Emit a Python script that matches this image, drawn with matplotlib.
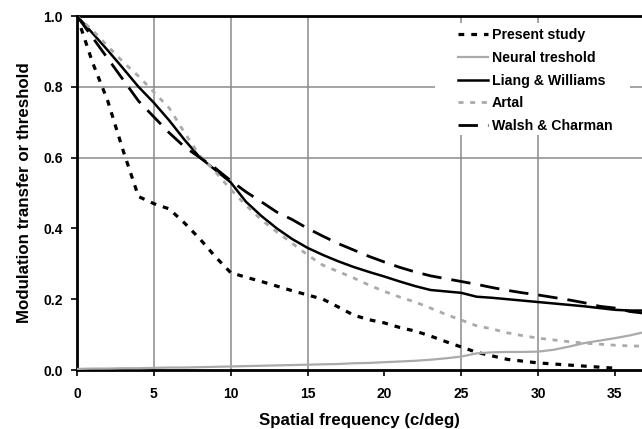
import numpy as np
import matplotlib
matplotlib.use('Agg')
import matplotlib.pyplot as plt
from matplotlib.patches import Rectangle

plt.rcParams['font.family'] = ['Liberation Sans', 'DejaVu Sans']
plt.rcParams['font.weight'] = 'bold'

# spatial frequency (c/deg)
freq = list(range(0, 38))

present_study = [1.0, 0.87, 0.76, 0.62, 0.49, 0.47, 0.455, 0.415, 0.37, 0.32,
                 0.275, 0.262, 0.25, 0.237, 0.224, 0.212, 0.2, 0.178, 0.155, 0.142,
                 0.133, 0.12, 0.11, 0.096, 0.08, 0.065, 0.05, 0.04, 0.03, 0.025,
                 0.02, 0.017, 0.014, 0.011, 0.008, 0.005]
neural = [0.003, 0.004, 0.004, 0.005, 0.005, 0.006, 0.007, 0.007, 0.008, 0.009,
          0.01, 0.011, 0.012, 0.013, 0.014, 0.015, 0.016, 0.017, 0.019, 0.02,
          0.022, 0.024, 0.026, 0.029, 0.033, 0.038, 0.047, 0.05, 0.051, 0.051,
          0.052, 0.057, 0.066, 0.076, 0.083, 0.09, 0.098, 0.108]
liang = [1.0, 0.952, 0.903, 0.852, 0.8, 0.755, 0.705, 0.65, 0.6, 0.565,
         0.53, 0.475, 0.435, 0.4, 0.37, 0.345, 0.325, 0.307, 0.291, 0.277,
         0.264, 0.25, 0.237, 0.226, 0.222, 0.218, 0.207, 0.204, 0.2, 0.196,
         0.192, 0.188, 0.184, 0.18, 0.175, 0.17, 0.168, 0.168]
artal = [1.0, 0.96, 0.915, 0.87, 0.83, 0.785, 0.74, 0.67, 0.605, 0.56,
         0.51, 0.465, 0.424, 0.39, 0.358, 0.325, 0.296, 0.278, 0.26, 0.24,
         0.222, 0.206, 0.192, 0.175, 0.157, 0.141, 0.125, 0.116, 0.105, 0.097,
         0.09, 0.085, 0.08, 0.076, 0.073, 0.07, 0.068, 0.067]
walsh = [1.0, 0.94, 0.88, 0.82, 0.76, 0.715, 0.67, 0.63, 0.6, 0.57,
         0.535, 0.503, 0.475, 0.446, 0.425, 0.4, 0.378, 0.357, 0.339, 0.321,
         0.305, 0.29, 0.277, 0.266, 0.258, 0.25, 0.242, 0.233, 0.225, 0.218,
         0.212, 0.205, 0.198, 0.19, 0.18, 0.175, 0.165, 0.16]

W, H = 642, 429
fig = plt.figure(figsize=(W / 100, H / 100), dpi=100)
ax = fig.add_axes([77 / W, 1 - 370 / H, 1 - 77 / W, 354 / H])

# only some grid lines survive in the original
for x in [5, 10, 15, 25, 30]:
    ax.axvline(x, color='#8a8a8a', lw=1.1, zorder=1)
for y in [0.6, 0.8]:
    ax.axhline(y, color='#8a8a8a', lw=1.1, zorder=1)

# white area behind the legend hides the grid there
fig_px = fig.transFigure
ax.add_patch(Rectangle((435 / W, 1 - 135 / H), 195 / W, 112 / H,
                       transform=fig_px, facecolor='white', edgecolor='none',
                       zorder=2))

ax.plot(freq[:len(present_study)], present_study, color='black', lw=2.3,
        dashes=(1.8, 2.2), label='Present study', zorder=3)
ax.plot(freq, neural, color='#aaaaaa', lw=1.6, label='Neural treshold', zorder=3)
ax.plot(freq, liang, color='black', lw=1.8, label='Liang & Williams', zorder=3)
ax.plot(freq, artal, color='#aaaaaa', lw=2.0, dashes=(1.8, 2.4),
        label='Artal', zorder=3)
ax.plot(freq, walsh, color='black', lw=2.0, dashes=(7.0, 3.6),
        label='Walsh & Charman', zorder=3)

ax.set_xlim(0, 36.76)
ax.set_ylim(0, 1.0)
ax.set_xticks([0, 5, 10, 15, 20, 25, 30, 35])
ax.set_yticks([0.0, 0.2, 0.4, 0.6, 0.8, 1.0])
ax.set_yticklabels(['0.0', '0.2', '0.4', '0.6', '0.8', '1.0'])
ax.tick_params(axis='both', labelsize=10, width=1.2, length=4)
ax.tick_params(axis='x', pad=8)
ax.tick_params(axis='y', pad=6)
for lab in ax.get_xticklabels() + ax.get_yticklabels():
    lab.set_fontweight('bold')

for s in ['left', 'bottom', 'top']:
    ax.spines[s].set_linewidth(2.0)
ax.spines['right'].set_visible(False)

ax.set_xlabel('Spatial frequency (c/deg)', fontsize=12.2, fontweight='bold',
              labelpad=9)
ax.set_ylabel('Modulation transfer or threshold', fontsize=12.2,
              fontweight='bold', labelpad=8)

leg = ax.legend(loc='upper left', bbox_to_anchor=(458 / W, 1 - 28 / H),
                bbox_transform=fig_px, frameon=False,
                fontsize=10.2, handlelength=2.1, handletextpad=0.3,
                labelspacing=0.62, borderpad=0, borderaxespad=0)
for t in leg.get_texts():
    t.set_fontweight('bold')
leg.set_zorder(5)

fig.savefig('out.png', dpi=100)
